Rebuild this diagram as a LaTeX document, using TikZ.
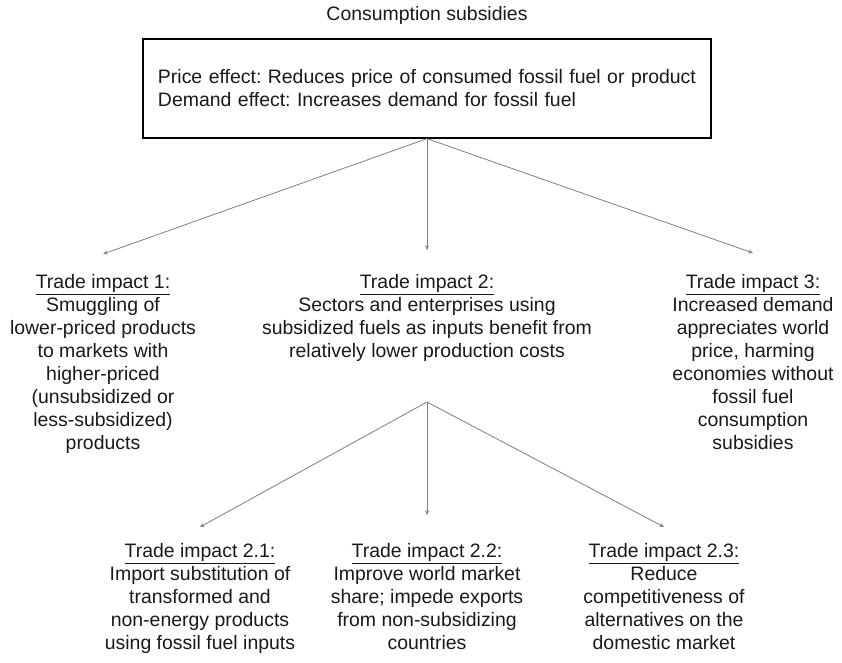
\documentclass[tikz,border=0pt]{standalone}
\usepackage{fontspec}
\setmainfont{Liberation Sans}
\usetikzlibrary{arrows.meta, positioning}
\frenchspacing

\begin{document}
\begin{tikzpicture}[x=0.03cm, y=-0.03cm,
    font=\fontsize{16.6pt}{19.6pt}\selectfont,
    txt/.style={align=center, anchor=north, inner sep=0pt, text=black!90},
    link/.style={-{Stealth[length=4pt,width=3.5pt]}, gray, line width=0.7pt}]
    \useasboundingbox (0,0) rectangle (842,662);
    % Title and effects box
    \node[txt, anchor=center] (title) at (427,15) {Consumption subsidies};
    \node[draw, line width=1.1pt, text=black!90, minimum width=17.04cm, minimum height=2.97cm,
          text width=16.14cm, align=left, inner xsep=0.45cm] (effects) at (427,88.5)
        {\mbox{Price effect: Reduces price of consumed fossil fuel or product}\\
         Demand effect: Increases demand for fossil fuel};

    % First level of trade impacts
    \node[txt] (impact1) at (103,274) {\underline{Trade impact 1:}\\Smuggling of\\lower-priced products\\to markets with\\higher-priced\\(unsubsidized or\\less-subsidized)\\products};
    \node[txt] (impact2) at (427,274) {\underline{Trade impact 2:}\\Sectors and enterprises using\\subsidized fuels as inputs benefit from\\relatively lower production costs};
    \node[txt] (impact3) at (753,274) {\underline{Trade impact 3:}\\Increased demand\\appreciates world\\price, harming\\economies without\\fossil fuel\\consumption\\subsidies};

    % Second level under impact 2
    \node[txt] (impact21) at (200,543) {\underline{Trade impact 2.1:}\\Import substitution of\\transformed and\\non-energy products\\using fossil fuel inputs};
    \node[txt] (impact22) at (427,543) {\underline{Trade impact 2.2:}\\Improve world market\\share; impede exports\\from non-subsidizing\\countries};
    \node[txt] (impact23) at (664,543) {\underline{Trade impact 2.3:}\\Reduce\\competitiveness of\\alternatives on the\\domestic market};

    % Arrow ends
    \coordinate (tip1) at (103,254);
    \coordinate (tip2) at (427,250);
    \coordinate (tip3) at (753,253);
    \coordinate (fork) at (427,402);
    \coordinate (tip21) at (200,527);
    \coordinate (tip22) at (427,515);
    \coordinate (tip23) at (664,527);

    \draw[link] (effects.south) -- (tip1);
    \draw[link] (effects.south) -- (tip2);
    \draw[link] (effects.south) -- (tip3);
    \draw[link] (fork) -- (tip21);
    \draw[link] (fork) -- (tip22);
    \draw[link] (fork) -- (tip23);
\end{tikzpicture}
\end{document}
